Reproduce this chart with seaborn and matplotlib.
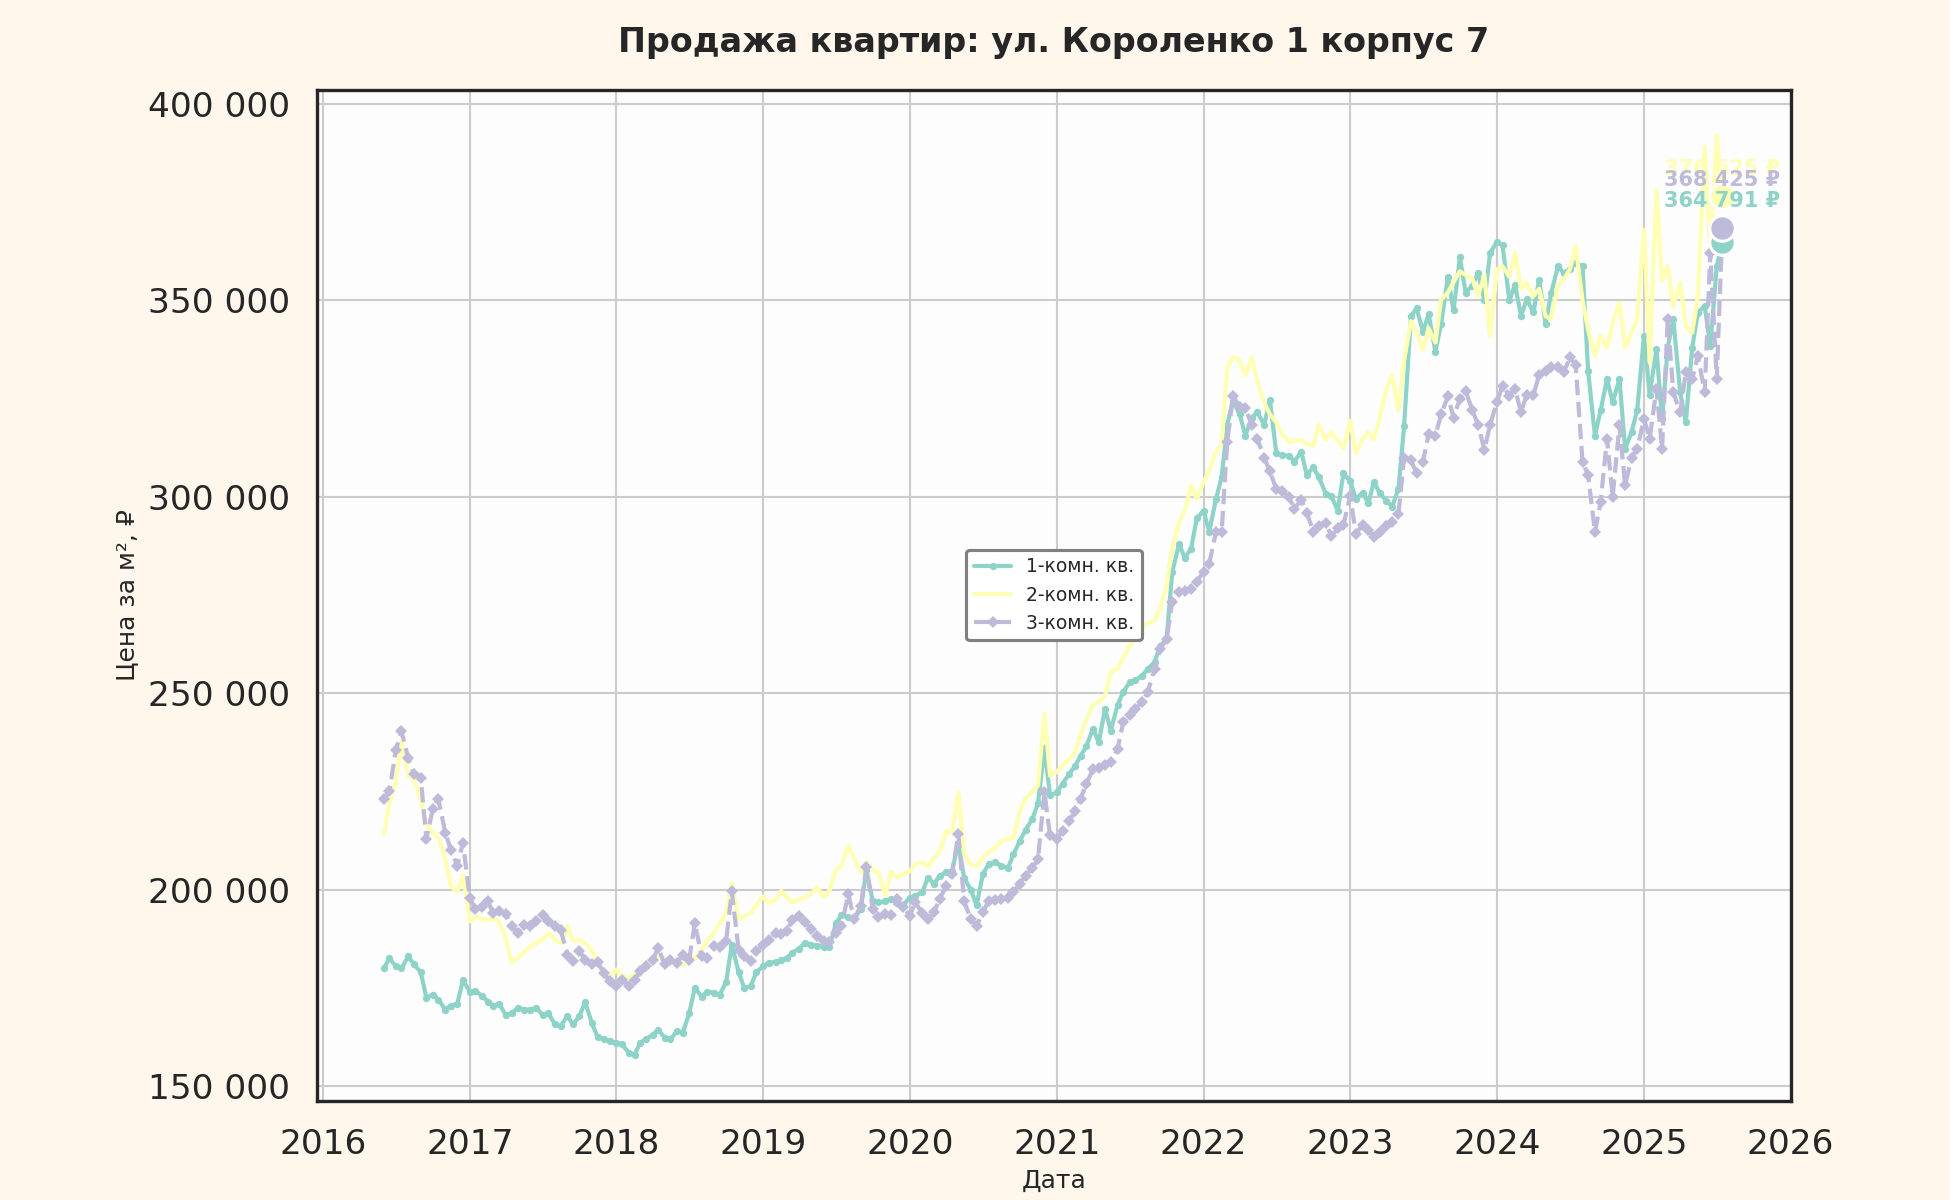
import numpy as np
import pandas as pd
import matplotlib
matplotlib.use("Agg")
import matplotlib.pyplot as plt
import matplotlib.dates as mdates
from matplotlib.ticker import FuncFormatter
import seaborn as sns

# даты наблюдений (1-е и 15-е число месяца)
dates = pd.date_range("2016-06-01", "2025-07-15", freq="SMS")

# цены за м2, тыс. руб.
one_room = [
    180.0, 182.5, 180.5, 180.0, 183.0, 181.0, 179.0, 172.5, 173.3, 172.0, 169.5, 170.5, 171.0, 177.0,
    174.0, 174.2, 173.0, 171.5, 170.5, 171.0, 168.0, 168.5, 170.0, 169.5, 169.5, 170.0,
    168.2, 168.6, 165.7, 165.3, 167.8, 165.7, 167.8, 171.4, 166.0, 162.5, 162.0, 161.5,
    161.0, 160.6, 158.5, 158.0, 161.0, 162.0, 163.0, 164.4, 162.3, 161.9, 164.0, 163.6,
    168.5, 175.0, 172.8, 174.0, 173.8, 173.3, 176.5, 186.0, 179.0, 175.0, 175.4, 179.0,
    180.5, 181.4, 181.6, 182.0, 182.6, 184.0, 185.0, 186.5, 186.0, 185.7, 185.5, 185.3,
    191.5, 193.5, 193.0, 192.5, 195.0, 205.0, 197.0, 196.8, 197.0, 197.6, 196.5, 196.0,
    198.0, 198.5, 199.3, 203.1, 201.5, 203.5, 204.5, 204.8, 212.0, 203.0, 200.0, 196.0,
    204.0, 206.5, 207.0, 206.1, 205.5, 209.0, 212.5, 215.2, 218.0, 222.0, 236.0, 224.0,
    224.8, 227.0, 229.5, 231.5, 234.0, 236.5, 241.0, 237.5, 246.0, 240.5, 247.0, 250.3,
    252.8, 253.3, 254.5, 256.2, 257.9, 262.1, 263.8, 280.8, 288.0, 284.5, 286.8, 294.5,
    296.5, 291.1, 299.5, 305.0, 318.4, 324.5, 321.0, 315.6, 320.2, 321.5, 318.4, 324.7,
    311.1, 310.6, 310.5, 309.0, 311.5, 305.6, 307.5, 305.0, 300.8, 300.2, 296.5, 306.0,
    304.0, 299.5, 301.1, 298.4, 303.8, 301.0, 299.0, 297.5, 302.0, 318.0, 346.0, 348.0,
    342.0, 346.5, 337.0, 344.0, 356.0, 347.5, 361.0, 352.0, 353.8, 357.0, 350.0, 362.0,
    365.0, 364.0, 350.0, 354.0, 346.0, 350.3, 347.0, 355.3, 344.0, 351.9, 358.7, 357.0,
    358.0, 359.5, 358.7, 332.0, 315.6, 322.0, 330.0, 324.1, 330.0, 312.2, 316.5, 322.0,
    341.0, 326.0, 337.6, 319.8, 338.0, 345.2, 326.6, 319.0, 338.0, 346.9, 348.6, 338.4, 358.7, 364.791,
]

two_room = [
    214.0, 222.0, 227.5, 237.7, 229.0, 228.0, 222.9, 216.5, 214.6, 213.0, 208.0, 200.8, 199.5, 203.8,
    192.0, 193.2, 192.5, 192.4, 192.4, 191.8, 187.3, 181.6, 182.5, 184.0, 185.5, 186.4,
    187.3, 189.0, 187.3, 186.4, 190.7, 187.0, 187.3, 186.4, 184.5, 181.5, 178.5, 177.5,
    179.7, 178.0, 177.5, 178.5, 180.0, 181.4, 182.3, 182.8, 182.5, 181.8, 181.2, 180.9,
    181.5, 182.5, 184.7, 187.0, 189.0, 191.5, 194.0, 201.7, 192.4, 193.2, 194.0, 196.0,
    198.3, 196.5, 197.5, 199.7, 198.0, 196.8, 197.5, 198.0, 199.0, 200.6, 198.0, 199.7,
    205.0, 206.1, 211.2, 208.0, 204.4, 207.0, 205.0, 204.4, 198.5, 204.7, 203.1, 204.0,
    204.7, 206.5, 207.0, 206.0, 208.0, 209.8, 215.0, 214.5, 224.8, 209.0, 206.5, 206.0,
    208.1, 209.5, 210.7, 212.4, 212.8, 213.2, 220.0, 223.1, 225.0, 226.5, 244.7, 229.0,
    230.0, 231.5, 233.3, 235.0, 239.5, 243.0, 247.3, 247.7, 249.4, 255.4, 256.2, 259.0,
    262.0, 263.8, 267.0, 267.8, 268.5, 271.5, 277.4, 287.0, 293.5, 296.5, 302.9, 299.5,
    303.8, 306.5, 311.5, 313.5, 332.9, 335.6, 334.7, 331.0, 335.6, 329.3, 324.0, 321.0,
    319.0, 316.0, 314.0, 314.3, 314.5, 313.5, 313.0, 318.4, 314.5, 316.5, 314.3, 312.5,
    319.3, 311.1, 314.7, 316.5, 314.7, 320.0, 327.5, 331.1, 322.0, 334.7, 344.7, 342.0,
    337.5, 342.9, 339.3, 350.2, 352.0, 354.7, 357.4, 356.5, 355.6, 351.1, 356.5, 341.1,
    357.9, 358.7, 356.0, 362.1, 353.0, 354.5, 351.1, 353.0, 346.0, 345.2, 354.0, 355.3,
    358.0, 363.8, 350.0, 342.5, 335.9, 341.0, 338.0, 344.3, 349.4, 338.0, 341.8, 345.2,
    368.0, 334.2, 378.1, 355.0, 358.7, 348.6, 354.5, 343.5, 341.8, 351.1, 389.1, 362.1, 392.0, 376.625,
]

three_room = [
    223.0, 225.0, 235.6, 240.3, 233.5, 229.5, 228.4, 213.0, 220.5, 223.0, 214.5, 210.2, 206.0, 212.0,
    198.0, 195.0, 195.5, 197.0, 194.0, 194.5, 193.8, 190.7, 189.0, 191.1, 190.7, 192.0,
    193.5, 192.0, 190.7, 189.8, 183.5, 181.8, 184.5, 182.0, 181.0, 181.5, 178.8, 176.7,
    175.4, 177.1, 175.4, 177.1, 179.2, 180.5, 182.0, 185.2, 181.0, 182.2, 181.4, 183.5,
    182.2, 191.5, 183.0, 182.6, 185.6, 185.4, 187.0, 199.6, 184.7, 183.0, 181.8, 184.3,
    186.0, 187.3, 189.0, 188.7, 189.5, 192.4, 193.4, 191.7, 190.0, 188.3, 187.0, 186.6,
    189.0, 190.8, 198.9, 192.5, 195.9, 205.7, 195.1, 193.0, 193.8, 193.5, 197.6, 195.5,
    193.4, 196.8, 194.0, 192.5, 194.2, 197.6, 201.0, 204.0, 214.2, 197.0, 192.5, 190.8,
    194.2, 197.2, 197.4, 197.6, 197.8, 199.5, 201.5, 203.6, 205.5, 207.8, 224.8, 213.8,
    212.9, 215.0, 217.5, 220.0, 223.1, 226.9, 230.7, 231.0, 231.8, 232.4, 235.8, 242.6,
    244.5, 246.0, 247.7, 250.3, 256.2, 261.3, 263.8, 273.2, 275.7, 276.0, 276.6, 278.3,
    281.0, 283.0, 291.1, 291.1, 314.0, 325.6, 323.0, 322.5, 318.4, 314.7, 310.0, 306.5,
    302.0, 301.5, 300.0, 297.0, 299.3, 296.0, 291.1, 292.5, 293.4, 290.0, 292.0, 292.9,
    300.2, 290.6, 292.9, 291.5, 289.7, 291.0, 292.5, 293.5, 295.6, 310.0, 309.3, 306.0,
    309.0, 316.0, 315.6, 321.0, 325.6, 320.2, 325.0, 327.0, 322.0, 318.4, 312.0, 318.4,
    324.1, 328.3, 325.8, 327.5, 321.5, 326.0, 326.0, 331.0, 332.0, 333.0, 333.0, 331.7,
    335.5, 333.5, 308.9, 305.5, 291.0, 298.7, 314.8, 300.0, 318.2, 303.0, 310.0, 312.2,
    319.8, 314.8, 327.5, 312.2, 345.2, 326.6, 321.5, 331.7, 330.0, 335.9, 326.6, 362.1, 330.0, 368.425,
]

labels = ["1-комн. кв.", "2-комн. кв.", "3-комн. кв."]
colors = ["#8dd3c7", "#ffffb3", "#bebada"]
markers = ["o", None, "D"]
linestyles = ["-", "-", "--"]
label_offsets = [20, 13, 23]

series = [np.array(s) * 1000 for s in (one_room, two_room, three_room)]
for s in series:
    assert len(s) == len(dates), (len(s), len(dates))

sns.set_theme(style="whitegrid")
plt.rcParams["font.family"] = ["DejaVu Sans"]

fig = plt.figure(figsize=(13, 8), dpi=150, facecolor="#FFF7EC")
ax = fig.add_axes([0.1626, 0.0828, 0.7559, 0.8426])
ax.set_facecolor("#FDFDFD")

for vals, lab, col, mk, ls in zip(series, labels, colors, markers, linestyles):
    sns.lineplot(x=dates, y=vals, ax=ax, color=col, label=lab, linewidth=2.0,
                 linestyle=ls, marker=mk, markersize=3.5 if mk == "o" else 4,
                 markeredgewidth=0)

# последние значения
for vals, col in zip(series, colors):
    ax.scatter([dates[-1]], [vals[-1]], s=150, color=col, edgecolor="white",
               linewidth=1.5, zorder=5)
for vals, col, off in zip(series, colors, label_offsets):
    txt = f"{round(vals[-1]):,}".replace(",", " ") + " ₽"
    ax.annotate(txt, (dates[-1], vals[-1]), xytext=(0, off), textcoords="offset points",
                ha="center", va="center", fontsize=10, fontweight="bold", color=col, zorder=6)

ax.set_xlim(pd.Timestamp("2015-12-18"), pd.Timestamp("2026-01-02"))
ax.xaxis.set_major_locator(mdates.YearLocator(1))
ax.xaxis.set_major_formatter(mdates.DateFormatter("%Y"))
ax.yaxis.set_major_formatter(FuncFormatter(lambda v, p: f"{v:,.0f}".replace(",", " ")))

ax.grid(True, color="#cccccc", linewidth=1.0)
for sp in ax.spines.values():
    sp.set_visible(True)
    sp.set_color("#262626")
    sp.set_linewidth(1.6)
ax.tick_params(axis="both", length=0, pad=13, labelsize=16.5, labelcolor="#262626")

ax.set_title("Продажа квартир: ул. Короленко 1 корпус 7", fontsize=16, fontweight="bold",
             color="#262626", pad=18)
ax.set_xlabel("Дата", fontsize=12, labelpad=4, color="#262626")
ax.set_ylabel("Цена за м², ₽", fontsize=12, labelpad=4, color="#262626")

leg = ax.legend(loc="center", fontsize=9, frameon=True, framealpha=1, facecolor="white",
                edgecolor="#808080", fancybox=True)
leg.get_frame().set_linewidth(1.5)

fig.savefig("out.png", dpi=150, facecolor=fig.get_facecolor())
